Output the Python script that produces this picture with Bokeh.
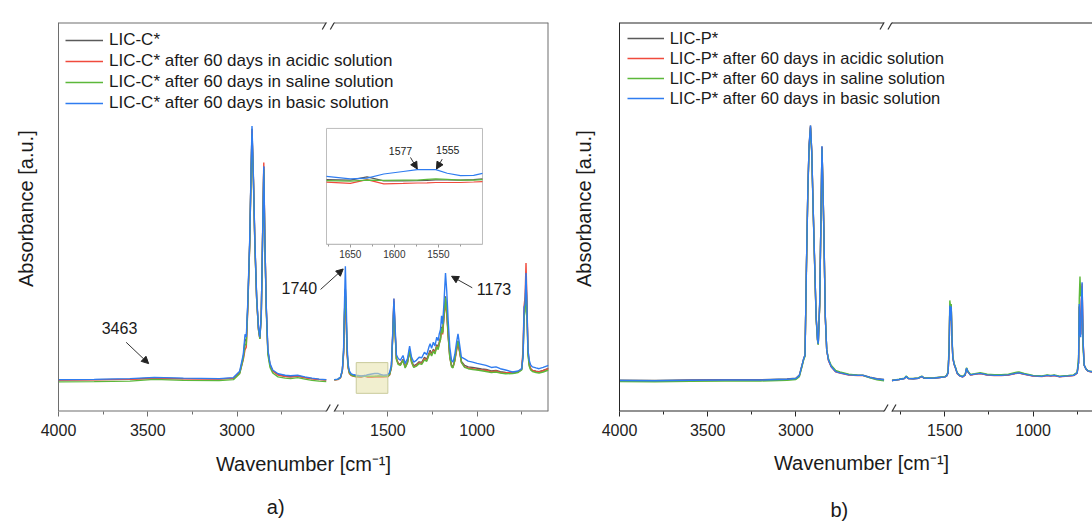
import numpy as np
from bokeh.plotting import figure
from bokeh.layouts import row
from bokeh.models import (Range1d, LinearAxis, FixedTicker, Label, Arrow, NormalHead,
                          Legend, LegendItem)
from bokeh.embed import file_html
from bokeh.resources import INLINE
from bokeh.core.properties import value

FONT = "Liberation Sans"
GAP = 45.0  # width of the axis break, in axis units
NB = "\u00a0"

# ---------------- tick values (wavenumbers) ----------------
MAJOR_WN = [4000, 3500, 3000, 1500, 1000]
MINOR_WN = [3750, 3250, 2750, 1750, 1250, 750]
INSET_MAJOR = [1650, 1600, 1550]
INSET_MINOR = [1675, 1625, 1575, 1525]
INSET_WN = (1677, 1500)
INSET_ABS = (-0.052, 0.069)

# ---------------- panel a) LIC-C* ----------------
C_LABELS = ["LIC-C*", "LIC-C* after 60 days in acidic solution",
            "LIC-C* after 60 days in saline solution", "LIC-C* after 60 days in basic solution"]
C_WN_HIGH = [4000, 3800, 3600, 3463, 3300, 3100, 3020, 2985, 2965, 2955, 2948, 2940, 2929, 2922,
             2916, 2908, 2900, 2890, 2880, 2872, 2864, 2857, 2850, 2844, 2836, 2827, 2815, 2800,
             2770, 2730, 2700, 2660, 2620, 2580, 2540, 2500]
C_BLACK_HIGH = [0.001, 0.002, 0.004, 0.009, 0.006, 0.005, 0.008, 0.03, 0.09, 0.16, 0.155, 0.29, 0.54, 0.79,
                0.99, 0.79, 0.54, 0.325, 0.205, 0.165, 0.26, 0.55, 0.84, 0.55, 0.285, 0.115, 0.06, 0.037,
                0.022, 0.016, 0.014, 0.017, 0.011, 0.006, 0.003, 0.001]
C_RED_HIGH = [0.0, 0.001, 0.003, 0.006, 0.005, 0.004, 0.007, 0.028, 0.08, 0.12, 0.13, 0.27, 0.53, 0.79,
              0.98, 0.79, 0.54, 0.32, 0.20, 0.162, 0.26, 0.56, 0.857, 0.56, 0.28, 0.11, 0.058, 0.035,
              0.02, 0.014, 0.012, 0.015, 0.009, 0.005, 0.002, 0.0]
C_GREEN_HIGH = [-0.007, -0.006, -0.004, 0.003, -0.001, -0.002, 0.002, 0.025, 0.085, 0.14, 0.14, 0.28, 0.53, 0.78,
                0.97, 0.78, 0.53, 0.32, 0.20, 0.162, 0.25, 0.54, 0.83, 0.54, 0.27, 0.10, 0.05, 0.028,
                0.013, 0.008, 0.006, 0.01, 0.004, -0.001, -0.004, -0.006]
C_BLUE_HIGH = [0.002, 0.003, 0.006, 0.011, 0.008, 0.006, 0.010, 0.035, 0.10, 0.18, 0.17, 0.30, 0.55, 0.80,
               1.00, 0.80, 0.55, 0.33, 0.21, 0.169, 0.26, 0.55, 0.842, 0.55, 0.29, 0.12, 0.065, 0.04,
               0.025, 0.019, 0.017, 0.019, 0.013, 0.008, 0.004, 0.002]

C_WN_LOW = [1800, 1780, 1765, 1755, 1748, 1743, 1738, 1733, 1728, 1722,
            1715, 1705, 1690, 1677, 1650, 1631, 1612, 1590, 1574, 1563,
            1553, 1540, 1525, 1510, 1500, 1490, 1480, 1472, 1466, 1460,
            1452, 1442, 1430, 1415, 1403, 1390, 1378, 1367, 1355, 1340,
            1325, 1310, 1295, 1282, 1270, 1263, 1255, 1245, 1236, 1226,
            1218, 1212, 1205, 1199, 1193, 1186, 1177, 1170, 1162, 1153,
            1143, 1135, 1125, 1115, 1107, 1098, 1088, 1070, 1050, 1025,
            1000, 975, 950, 920, 894, 870, 840, 801, 770, 750,
            742, 737, 731, 726, 721, 715, 708, 700, 690, 670,
            653, 630, 600]
C_BLACK_LOW = [0.002, 0.003, 0.011, 0.038, 0.11, 0.26, 0.36, 0.24, 0.11, 0.05,
               0.028, 0.02, 0.017, 0.0155, 0.015, 0.0183, 0.0142, 0.0143, 0.0145, 0.0148,
               0.0152, 0.0151, 0.015, 0.0155, 0.0162, 0.024, 0.052, 0.185, 0.31, 0.20,
               0.085, 0.066, 0.062, 0.082, 0.052, 0.072, 0.12, 0.075, 0.056, 0.062,
               0.072, 0.07, 0.09, 0.082, 0.105, 0.118, 0.103, 0.122, 0.11, 0.14,
               0.13, 0.15, 0.168, 0.21, 0.19, 0.255, 0.33, 0.275, 0.18, 0.095,
               0.058, 0.053, 0.08, 0.125, 0.155, 0.115, 0.074, 0.058, 0.052, 0.05,
               0.047, 0.044, 0.042, 0.036, 0.038, 0.033, 0.03, 0.028, 0.032, 0.042,
               0.11, 0.26, 0.29, 0.40, 0.28, 0.11, 0.06, 0.045, 0.038, 0.035,
               0.033, 0.038, 0.046]
C_RED_LOW = [0.0, 0.002, 0.01, 0.035, 0.10, 0.24, 0.331, 0.22, 0.10, 0.045,
             0.025, 0.018, 0.015, 0.0128, 0.0115, 0.0155, 0.0111, 0.0115, 0.012, 0.0122,
             0.0125, 0.0125, 0.0125, 0.013, 0.0135, 0.02, 0.05, 0.19, 0.32, 0.20,
             0.085, 0.065, 0.06, 0.08, 0.05, 0.07, 0.11, 0.07, 0.052, 0.058,
             0.068, 0.066, 0.085, 0.078, 0.10, 0.112, 0.098, 0.118, 0.106, 0.135,
             0.125, 0.145, 0.16, 0.20, 0.18, 0.24, 0.305, 0.26, 0.17, 0.09,
             0.055, 0.05, 0.075, 0.115, 0.143, 0.11, 0.07, 0.052, 0.048, 0.045,
             0.042, 0.04, 0.039, 0.033, 0.036, 0.03, 0.028, 0.032, 0.033, 0.045,
             0.13, 0.29, 0.33, 0.461, 0.32, 0.12, 0.065, 0.045, 0.038, 0.034,
             0.032, 0.037, 0.045]
C_GREEN_LOW = [0.001, 0.003, 0.011, 0.038, 0.11, 0.26, 0.357, 0.24, 0.11, 0.05,
               0.028, 0.02, 0.016, 0.0145, 0.014, 0.015, 0.0148, 0.0149, 0.015, 0.0158,
               0.0163, 0.0158, 0.015, 0.015, 0.0155, 0.022, 0.05, 0.18, 0.30, 0.19,
               0.08, 0.062, 0.058, 0.078, 0.048, 0.068, 0.115, 0.07, 0.05, 0.055,
               0.065, 0.062, 0.08, 0.074, 0.098, 0.108, 0.095, 0.114, 0.103, 0.132,
               0.12, 0.142, 0.16, 0.205, 0.185, 0.25, 0.325, 0.27, 0.175, 0.09,
               0.052, 0.048, 0.078, 0.125, 0.155, 0.115, 0.07, 0.05, 0.045, 0.042,
               0.04, 0.037, 0.034, 0.03, 0.032, 0.028, 0.025, 0.026, 0.03, 0.04,
               0.10, 0.247, 0.27, 0.39, 0.27, 0.10, 0.055, 0.04, 0.034, 0.03,
               0.028, 0.032, 0.04]
C_BLUE_LOW = [0.002, 0.004, 0.012, 0.04, 0.12, 0.30, 0.448, 0.30, 0.13, 0.06,
              0.035, 0.025, 0.021, 0.019, 0.0163, 0.017, 0.0214, 0.024, 0.0259, 0.0259,
              0.026, 0.0222, 0.0197, 0.020, 0.022, 0.03, 0.06, 0.20, 0.321, 0.22,
              0.10, 0.085, 0.078, 0.097, 0.065, 0.085, 0.134, 0.09, 0.071, 0.078,
              0.09, 0.088, 0.11, 0.10, 0.13, 0.143, 0.125, 0.149, 0.135, 0.169,
              0.155, 0.182, 0.20, 0.253, 0.22, 0.30, 0.422, 0.35, 0.234, 0.13,
              0.078, 0.071, 0.10, 0.15, 0.182, 0.14, 0.091, 0.084, 0.075, 0.071,
              0.066, 0.062, 0.058, 0.05, 0.052, 0.045, 0.04, 0.032, 0.036, 0.045,
              0.10, 0.286, 0.30, 0.422, 0.30, 0.12, 0.078, 0.06, 0.052, 0.048,
              0.045, 0.05, 0.058]

# ---------------- panel b) LIC-P* ----------------
P_LABELS = ["LIC-P*", "LIC-P* after 60 days in acidic solution",
            "LIC-P* after 60 days in saline solution", "LIC-P* after 60 days in basic solution"]
P_WN_HIGH = [4000, 3800, 3600, 3400, 3200, 3050, 3000, 2980, 2965, 2956,
             2948, 2940, 2932, 2925, 2917, 2910, 2902, 2893, 2885, 2877,
             2873, 2865, 2859, 2852, 2846, 2841, 2833, 2825, 2815, 2800,
             2775, 2750, 2700, 2650, 2620, 2580, 2540, 2500]
P_BLACK_HIGH = [0.001, 0.0, 0.002, 0.003, 0.003, 0.006, 0.009, 0.021, 0.06, 0.085,
                0.10, 0.45, 0.75, 0.92, 1.0, 0.9, 0.68, 0.45, 0.25, 0.16,
                0.144, 0.30, 0.58, 0.918, 0.75, 0.58, 0.25, 0.12, 0.08, 0.056,
                0.036, 0.031, 0.023, 0.021, 0.021, 0.013, 0.007, 0.004]
P_RED_HIGH = [-0.001, -0.002, 0.0, 0.001, 0.001, 0.004, 0.007, 0.019, 0.058, 0.083,
              0.098, 0.44, 0.745, 0.915, 0.995, 0.895, 0.675, 0.445, 0.245, 0.158,
              0.142, 0.295, 0.575, 0.915, 0.745, 0.575, 0.245, 0.118, 0.078, 0.054,
              0.034, 0.029, 0.021, 0.019, 0.019, 0.011, 0.005, 0.002]
P_GREEN_HIGH = [-0.004, -0.005, -0.003, -0.002, -0.002, 0.001, 0.004, 0.015, 0.055, 0.08,
                0.095, 0.44, 0.74, 0.91, 0.99, 0.89, 0.67, 0.44, 0.24, 0.155,
                0.14, 0.29, 0.57, 0.91, 0.74, 0.57, 0.25, 0.12, 0.085, 0.06,
                0.04, 0.034, 0.025, 0.021, 0.02, 0.01, 0.003, -0.001]
P_BLUE_HIGH = [0.0, -0.001, 0.001, 0.002, 0.002, 0.005, 0.008, 0.02, 0.06, 0.085,
               0.10, 0.45, 0.75, 0.92, 1.0, 0.9, 0.68, 0.45, 0.25, 0.16,
               0.144, 0.30, 0.58, 0.919, 0.75, 0.58, 0.25, 0.12, 0.08, 0.055,
               0.035, 0.03, 0.022, 0.02, 0.02, 0.012, 0.006, 0.003]

P_WN_LOW = [1800, 1760, 1730, 1719, 1708, 1680, 1650, 1638, 1629, 1620,
            1590, 1560, 1530, 1500, 1490, 1482, 1476, 1472, 1468, 1464,
            1460, 1455, 1448, 1440, 1430, 1415, 1400, 1385, 1377, 1370,
            1355, 1330, 1300, 1260, 1220, 1180, 1140, 1100, 1080, 1050,
            1000, 950, 920, 900, 880, 850, 800, 770, 750, 742,
            738, 734, 730, 726, 722, 716, 710, 700, 690, 675, 660]
P_BLACK_LOW = [0.0, 0.004, 0.008, 0.016, 0.008, 0.007, 0.009, 0.013, 0.016, 0.01,
               0.009, 0.01, 0.012, 0.014, 0.018, 0.03, 0.12, 0.292, 0.236, 0.288,
               0.168, 0.089, 0.065, 0.05, 0.028, 0.018, 0.014, 0.022, 0.047, 0.035,
               0.022, 0.025, 0.028, 0.022, 0.02, 0.02, 0.022, 0.028, 0.03, 0.025,
               0.018, 0.016, 0.02, 0.018, 0.02, 0.015, 0.018, 0.02, 0.03, 0.07,
               0.29, 0.2, 0.18, 0.31, 0.37, 0.14, 0.06, 0.045, 0.038, 0.035, 0.034]
P_RED_LOW = [0.0, 0.004, 0.008, 0.015, 0.008, 0.007, 0.009, 0.012, 0.015, 0.01,
             0.009, 0.01, 0.012, 0.014, 0.018, 0.03, 0.12, 0.29, 0.24, 0.285,
             0.165, 0.088, 0.064, 0.049, 0.027, 0.018, 0.014, 0.021, 0.046, 0.034,
             0.021, 0.024, 0.027, 0.021, 0.019, 0.019, 0.021, 0.027, 0.029, 0.024,
             0.017, 0.015, 0.019, 0.017, 0.019, 0.014, 0.017, 0.019, 0.029, 0.07,
             0.29, 0.2, 0.18, 0.31, 0.38, 0.15, 0.06, 0.045, 0.037, 0.034, 0.033]
P_GREEN_LOW = [0.0, 0.005, 0.009, 0.018, 0.009, 0.008, 0.01, 0.015, 0.017, 0.011,
               0.01, 0.011, 0.013, 0.015, 0.02, 0.035, 0.14, 0.314, 0.29, 0.30,
               0.18, 0.095, 0.068, 0.052, 0.03, 0.02, 0.016, 0.024, 0.05, 0.037,
               0.024, 0.027, 0.031, 0.025, 0.023, 0.023, 0.025, 0.032, 0.034, 0.028,
               0.02, 0.018, 0.022, 0.02, 0.022, 0.017, 0.02, 0.022, 0.032, 0.09,
               0.32, 0.408, 0.33, 0.36, 0.30, 0.12, 0.06, 0.046, 0.039, 0.036, 0.035]
P_BLUE_LOW = [0.0, 0.004, 0.008, 0.016, 0.008, 0.007, 0.009, 0.013, 0.016, 0.01,
              0.009, 0.01, 0.012, 0.014, 0.018, 0.03, 0.12, 0.294, 0.235, 0.29,
              0.17, 0.09, 0.065, 0.05, 0.028, 0.018, 0.014, 0.022, 0.048, 0.035,
              0.022, 0.025, 0.028, 0.022, 0.02, 0.02, 0.022, 0.028, 0.03, 0.025,
              0.018, 0.016, 0.02, 0.018, 0.02, 0.015, 0.018, 0.02, 0.03, 0.07,
              0.30, 0.19, 0.17, 0.30, 0.385, 0.15, 0.06, 0.045, 0.038, 0.035, 0.034]

COLORS = ["#5a5a5a", "#f04a3c", "#5cb83a", "#2f7cf0"]


def u_of(wn):
    """Broken wavenumber axis: 4000-2500 and 1800-down side by side."""
    wn = np.asarray(wn, dtype=float)
    return np.where(wn >= 2500, 4000.0 - wn, 1500.0 + GAP + (1800.0 - wn))


def joined(wn_hi, y_hi, wn_lo, y_lo):
    x = np.concatenate([u_of(wn_hi), [np.nan], u_of(wn_lo)])
    y = np.concatenate([np.asarray(y_hi, float), [np.nan], np.asarray(y_lo, float)])
    return x, y


def make_panel(width, b_left, b_right, b_bottom, wn_end, y_lo, y_hi, frame_color,
               tick_standoff, label_standoff, ylabel_standoff, right_edge,
               xlabel, tag, tag_standoff):
    height = 523
    b_top = 22
    u_end = float(u_of(wn_end))
    p = figure(width=width, height=height, x_range=Range1d(0, u_end), y_range=Range1d(y_lo, y_hi),
               x_axis_location="below", y_axis_location="left",
               output_backend="svg", toolbar_location=None,
               min_border_left=b_left, min_border_right=b_right,
               min_border_top=b_top, min_border_bottom=b_bottom)
    p.grid.visible = False
    p.outline_line_color = None
    p.background_fill_color = "white"
    p.border_fill_color = "white"

    ya = p.yaxis[0]
    ya.ticker = FixedTicker(ticks=[])
    ya.axis_line_color = frame_color
    ya.major_tick_line_color = None
    ya.minor_tick_line_color = None
    ya.major_tick_out = 0
    ya.major_label_standoff = 0
    ya.major_label_text_font_size = "0px"
    ya.axis_label = NB * 3 + "Absorbance [a.u.]"
    ya.axis_label_text_font = FONT
    ya.axis_label_text_font_size = "20px"
    ya.axis_label_text_font_style = "normal"
    ya.axis_label_text_color = "#1a1a1a"
    ya.axis_label_standoff = ylabel_standoff

    ticks = [float(v) for v in u_of(MAJOR_WN)]
    minors = [float(v) for v in u_of(MINOR_WN)]
    xa = p.xaxis[0]
    xa.ticker = FixedTicker(ticks=ticks, minor_ticks=minors)
    xa.major_label_overrides = {t: str(w) for t, w in zip(ticks, MAJOR_WN)}
    xa.axis_line_color = None
    xa.major_tick_line_color = frame_color
    xa.minor_tick_line_color = frame_color
    xa.major_tick_out = 5
    xa.major_tick_in = 0
    xa.minor_tick_out = 3
    xa.minor_tick_in = 0
    xa.major_label_standoff = tick_standoff
    xa.major_label_text_font = FONT
    xa.major_label_text_font_size = "16px"
    xa.major_label_text_color = "#222222"
    xa.axis_label = xlabel
    xa.axis_label_text_font = FONT
    xa.axis_label_text_font_size = "20px"
    xa.axis_label_text_font_style = "normal"
    xa.axis_label_text_color = "#1a1a1a"
    xa.axis_label_standoff = label_standoff

    # panel tag ("a)" / "b)") as the label of a bare axis below
    tag_ax = LinearAxis(ticker=FixedTicker(ticks=[]))
    tag_ax.axis_line_color = None
    tag_ax.major_tick_line_color = None
    tag_ax.minor_tick_line_color = None
    tag_ax.major_tick_out = 0
    tag_ax.minor_tick_out = 0
    tag_ax.major_label_standoff = 0
    tag_ax.major_label_text_font_size = "0px"
    tag_ax.axis_label = tag
    tag_ax.axis_label_text_font = FONT
    tag_ax.axis_label_text_font_size = "20px"
    tag_ax.axis_label_text_font_style = "normal"
    tag_ax.axis_label_text_color = "#1a1a1a"
    tag_ax.axis_label_standoff = tag_standoff
    p.add_layout(tag_ax, "below")

    # frame edges (broken at the axis gap)
    x0 = [0.0, 1500.0 + GAP, 0.0, 1500.0 + GAP]
    x1 = [1500.0, u_end, 1500.0, u_end]
    yy = [y_lo, y_lo, y_hi, y_hi]
    if right_edge:
        x0.append(u_end); x1.append(u_end)
        p.segment(x0=x0, y0=yy + [y_lo], x1=x1, y1=yy + [y_hi], line_color=frame_color, line_width=2)
    else:
        p.segment(x0=x0, y0=yy, x1=x1, y1=yy, line_color=frame_color, line_width=2)

    # axis-break marks
    px_u = u_end / (width - b_left - b_right)
    px_y = (y_hi - y_lo) / (height - b_top - b_bottom)
    for yv in (y_lo, y_hi):
        for cx in (1500.0, 1500.0 + GAP):
            p.add_layout(Arrow(end=None, x_start=cx - 4 * px_u, y_start=yv - 7 * px_y,
                               x_end=cx + 4 * px_u, y_end=yv + 7 * px_y,
                               line_color="#333333", line_width=1.2))
    return p, u_end


def add_label(p, x, y, text, size, **kw):
    p.add_layout(Label(x=x, y=y, text=text, text_font=FONT, text_font_size=size,
                       text_align="center", text_baseline="middle", text_color="#1a1a1a", **kw))


def add_arrow(p, xs, ys, xe, ye, **kw):
    p.add_layout(Arrow(end=NormalHead(size=7, fill_color="#222222", line_color="#222222"),
                       x_start=xs, y_start=ys, x_end=xe, y_end=ye,
                       line_color="#333333", line_width=1, **kw))


XLABEL = "Wavenumber [cm\u207b\u00b9]"

# ====================== panel a ======================
pa, ua_end = make_panel(560, 58, 12, 108, 600, -0.1235, 1.408, "#6e6e6e",
                        tick_standoff=7, label_standoff=14, ylabel_standoff=22, right_edge=True,
                        xlabel=XLABEL, tag="a)" + NB * 10, tag_standoff=18)
pa.extra_x_ranges = {"ix": Range1d(1981.1, 1425.1)}
pa.extra_y_ranges = {"iy": Range1d(-0.2268, 0.1797)}

c_series = [(C_BLACK_HIGH, C_BLACK_LOW), (C_RED_HIGH, C_RED_LOW),
            (C_GREEN_HIGH, C_GREEN_LOW), (C_BLUE_HIGH, C_BLUE_LOW)]
items = []
wn_low = np.asarray(C_WN_LOW, float)
in_box = (wn_low <= INSET_WN[0]) & (wn_low >= INSET_WN[1])
for (hi, lo), col, lab in zip(c_series, COLORS, C_LABELS):
    x, y = joined(C_WN_HIGH, hi, C_WN_LOW, lo)
    r = pa.line(x, y, line_color=col, line_width=1.4)
    items.append(LegendItem(label=value(lab), renderers=[r]))

# highlighted region
pa.quad(left=[float(u_of(INSET_WN[0]))], right=[float(u_of(INSET_WN[1]))],
        bottom=[INSET_ABS[0]], top=[INSET_ABS[1]],
        fill_color="#e6e2a8", fill_alpha=0.55, line_color="#c9cb9c", line_width=1)

# inset
pa.quad(left=[INSET_WN[1]], right=[INSET_WN[0]], bottom=[INSET_ABS[0]], top=[INSET_ABS[1]],
        x_range_name="ix", y_range_name="iy", fill_color="white", line_color="#bdbdbd", line_width=1)
for (hi, lo), col in zip(c_series, COLORS):
    pa.line(wn_low[in_box], np.asarray(lo, float)[in_box], line_color=col, line_width=1.2,
            x_range_name="ix", y_range_name="iy")
iax = LinearAxis(x_range_name="ix", y_range_name="iy", fixed_location=INSET_ABS[0],
                 bounds=(INSET_WN[1], INSET_WN[0]),
                 ticker=FixedTicker(ticks=INSET_MAJOR, minor_ticks=INSET_MINOR))
iax.axis_line_color = "#bdbdbd"
iax.major_tick_line_color = "#9a9a9a"
iax.minor_tick_line_color = "#9a9a9a"
iax.major_tick_out = 3
iax.major_tick_in = 0
iax.minor_tick_out = 2
iax.minor_tick_in = 0
iax.major_label_standoff = 3
iax.major_label_text_font = FONT
iax.major_label_text_font_size = "10px"
iax.major_label_text_color = "#333333"
pa.add_layout(iax, "below")

add_label(pa, 1593, 0.0455, "1577", "10.5px", x_range_name="ix", y_range_name="iy")
add_label(pa, 1539.4, 0.0463, "1555", "10.5px", x_range_name="ix", y_range_name="iy")
add_arrow(pa, 1581.7, 0.0387, 1574, 0.0266, x_range_name="ix", y_range_name="iy")
add_arrow(pa, 1545.7, 0.0369, 1552.2, 0.0266, x_range_name="ix", y_range_name="iy")

add_label(pa, 341.7, 0.204, "3463", "16px")
add_arrow(pa, 379, 0.149, 505, 0.065)
add_label(pa, 1349, 0.3636, "1740", "16px")
add_arrow(pa, 1468, 0.357, 1595, 0.4376)
add_label(pa, 2440, 0.357, "1173", "16px")
add_arrow(pa, 2318, 0.3636, 2202, 0.409)

pa.add_layout(Legend(items=items, location=(7, 297.7), padding=0, margin=0, spacing=1,
                     glyph_width=38, glyph_height=20, label_height=20, label_standoff=6,
                     label_text_font=FONT, label_text_font_size="17px",
                     label_text_color="#1a1a1a", border_line_alpha=0,
                     background_fill_alpha=0))

# ====================== panel b ======================
pb, ub_end = make_panel(532, 59, 0, 112, 663, -0.1216, 1.404, "#262626",
                        tick_standoff=7, label_standoff=13, ylabel_standoff=25, right_edge=False,
                        xlabel=NB * 2 + XLABEL, tag="b)" + NB * 6, tag_standoff=22)
p_series = [(P_BLACK_HIGH, P_BLACK_LOW), (P_RED_HIGH, P_RED_LOW),
            (P_GREEN_HIGH, P_GREEN_LOW), (P_BLUE_HIGH, P_BLUE_LOW)]
items_b = []
for (hi, lo), col, lab in zip(p_series, COLORS, P_LABELS):
    x, y = joined(P_WN_HIGH, hi, P_WN_LOW, lo)
    r = pb.line(x, y, line_color=col, line_width=1.4)
    items_b.append(LegendItem(label=value(lab), renderers=[r]))

pb.add_layout(Legend(items=items_b, location=(7.7, 302.7), padding=0, margin=0, spacing=0,
                     glyph_width=37, glyph_height=20, label_height=20, label_standoff=6,
                     label_text_font=FONT, label_text_font_size="16.5px",
                     label_text_color="#1a1a1a", border_line_alpha=0,
                     background_fill_alpha=0))

layout = row(pa, pb)
open("out.html", "w").write(file_html(layout, INLINE))
